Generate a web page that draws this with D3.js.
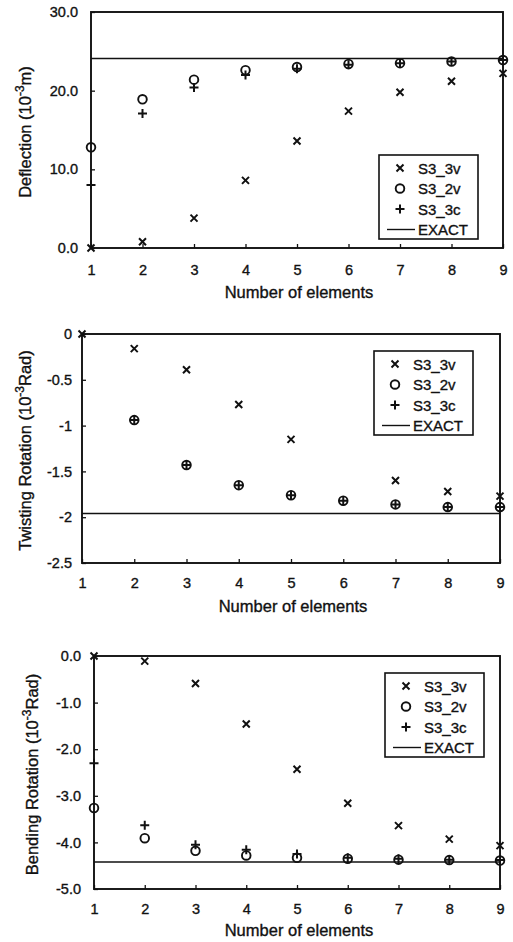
<!DOCTYPE html>
<html>
<head>
  <meta charset="utf-8">
  <title>Deflection and rotation vs number of elements</title>
  <script src="https://d3js.org/d3.v7.min.js"></script>
  <style>
    body { margin: 0; background: #fff; }
    svg { display: block; }
    text { font-family: "Liberation Sans", Arial, sans-serif; fill: #111; stroke: #111; stroke-width: 0.35px; }
  </style>
</head>
<body>
  <div id="chart"></div>

  <script>
    // values
    const elements = [1, 2, 3, 4, 5, 6, 7, 8, 9];
    const legendLabels = ["S3_3v", "S3_2v", "S3_3c", "EXACT"];

    const deflection3v = [0.0, 0.8, 3.8, 8.6, 13.6, 17.4, 19.8, 21.2, 22.2];
    const deflection2v = [12.8, 18.9, 21.4, 22.6, 23.0, 23.4, 23.5, 23.7, 23.9];
    const deflection3c = [8.0, 17.1, 20.4, 22.0, 22.8, 23.3, 23.5, 23.7, 23.9];
    const deflectionExact = 24.1;
    const deflectionTicks = [0, 10, 20, 30];
    const deflectionTickLabels = ["0.0", "10.0", "20.0", "30.0"];

    const twist3v = [0, -0.16, -0.39, -0.77, -1.15, null, -1.60, -1.72, -1.77];
    const twist2v = [null, -0.94, -1.43, -1.65, -1.76, -1.82, -1.86, -1.89, -1.89];
    const twist3c = [null, -0.94, -1.43, -1.65, -1.76, -1.82, -1.86, -1.89, -1.89];
    const twistExact = -1.96;
    const twistTicks = [0, -0.5, -1, -1.5, -2, -2.5];
    const twistTickLabels = ["0", "-0.5", "-1", "-1.5", "-2", "-2.5"];

    const bend3v = [0.0, -0.11, -0.59, -1.46, -2.43, -3.16, -3.64, -3.93, -4.07];
    const bend2v = [-3.26, -3.91, -4.18, -4.28, -4.33, -4.35, -4.37, -4.38, -4.39];
    const bend3c = [-2.30, -3.63, -4.05, -4.16, -4.25, -4.33, -4.35, -4.37, -4.38];
    const bendExact = -4.42;
    const bendTicks = [0, -1, -2, -3, -4, -5];
    const bendTickLabels = ["0.0", "-1.0", "-2.0", "-3.0", "-4.0", "-5.0"];

    const svg = d3.select("#chart").append("svg")
      .attr("width", 513)
      .attr("height", 942);

    const ink = "#111";

    function markerPath(type, s) {
      if (type === "x") return `M${-s},${-s}L${s},${s}M${-s},${s}L${s},${-s}`;
      if (type === "+") return `M${-s},0H${s}M0,${-s}V${s}`;
      return null;
    }

    function drawMarker(g, type, x, y) {
      if (type === "o") {
        g.append("circle")
          .attr("cx", x).attr("cy", y).attr("r", 4.3)
          .attr("fill", "none").attr("stroke", ink).attr("stroke-width", 1.9);
      } else {
        g.append("path")
          .attr("transform", `translate(${x},${y})`)
          .attr("d", markerPath(type, type === "x" ? 3.5 : 4.5))
          .attr("fill", "none").attr("stroke", ink).attr("stroke-width", 2);
      }
    }

    function drawPanel(p) {
      const g = svg.append("g");

      const x = d3.scaleLinear().domain([1, 9]).range([p.left, p.right]);
      const y = d3.scaleLinear().domain(d3.extent(p.ticks)).range([p.bottom, p.top]);

      // exact solution line
      g.append("line")
        .attr("x1", p.left).attr("x2", p.right)
        .attr("y1", y(p.exact)).attr("y2", y(p.exact))
        .attr("stroke", ink).attr("stroke-width", 1.5);

      // y axis, inward ticks
      const yAxis = g.append("g")
        .attr("transform", `translate(${p.left},0)`)
        .call(d3.axisLeft(y).tickValues(p.ticks).tickSizeInner(-4).tickSizeOuter(0)
          .tickPadding(p.yPad).tickFormat((d, i) => p.tickLabels[i]));
      yAxis.select(".domain").remove();
      yAxis.selectAll("line").attr("stroke", ink).attr("stroke-width", 1.3);
      yAxis.selectAll("text").attr("font-size", 14.5).attr("fill", ink)
        .attr("font-family", "Liberation Sans, Arial, sans-serif");

      // x axis, inward ticks
      const xAxis = g.append("g")
        .attr("transform", `translate(0,${p.bottom})`)
        .call(d3.axisBottom(x).tickValues(elements).tickSizeInner(-4).tickSizeOuter(0)
          .tickPadding(p.xPad).tickFormat(d3.format("d")));
      xAxis.select(".domain").remove();
      xAxis.selectAll("line").attr("stroke", ink).attr("stroke-width", 1.3);
      xAxis.selectAll("text").attr("font-size", 14.5).attr("fill", ink)
        .attr("font-family", "Liberation Sans, Arial, sans-serif");

      // frame
      g.append("rect")
        .attr("x", p.left).attr("y", p.top)
        .attr("width", p.right - p.left).attr("height", p.bottom - p.top)
        .attr("fill", "none").attr("stroke", ink).attr("stroke-width", 1.9);

      // points
      const series = [["x", p.s3v], ["o", p.s2v], ["+", p.s3c]];
      series.forEach(([type, vals]) => {
        vals.forEach((v, i) => {
          if (v === null) return;
          drawMarker(g, type, x(elements[i]), y(v));
        });
      });

      // axis titles
      g.append("text")
        .attr("x", (p.left + p.right) / 2 + 2)
        .attr("y", p.bottom + p.xTitleDy)
        .attr("text-anchor", "middle")
        .attr("font-size", 16.5)
        .text("Number of elements");

      const yt = g.append("text")
        .attr("transform", `translate(${p.titleX},${(p.top + p.bottom) / 2 + 2}) rotate(-90)`)
        .attr("text-anchor", "middle")
        .attr("font-size", 16.5);
      yt.append("tspan").text(p.yTitle + " (10");
      yt.append("tspan").attr("dy", -7).attr("font-size", 12).text("-3");
      yt.append("tspan").attr("dy", 7).text(p.yUnit + ")");

      // legend
      const lg = g.append("g").attr("transform", `translate(${p.legend[0]},${p.legend[1]})`);
      lg.append("rect")
        .attr("width", 99).attr("height", 84)
        .attr("fill", "#fff").attr("stroke", ink).attr("stroke-width", 1.6);
      legendLabels.forEach((lab, i) => {
        const cy = 13 + i * 20.5;
        if (i < 3) drawMarker(lg, ["x", "o", "+"][i], 21, cy);
        else lg.append("line").attr("x1", 8).attr("x2", 36).attr("y1", cy).attr("y2", cy)
          .attr("stroke", ink).attr("stroke-width", 1.4);
        lg.append("text").attr("x", 39).attr("y", cy + 5.5)
          .attr("font-size", 15).text(lab);
      });
    }

    drawPanel({
      left: 91, right: 503, top: 12, bottom: 248, yPad: 13, xPad: 17, xTitleDy: 50,
      ticks: deflectionTicks, tickLabels: deflectionTickLabels,
      s3v: deflection3v, s2v: deflection2v, s3c: deflection3c, exact: deflectionExact,
      yTitle: "Deflection", yUnit: "m", titleX: 31, legend: [379, 155]
    });

    drawPanel({
      left: 82, right: 500, top: 334, bottom: 563, yPad: 10, xPad: 15, xTitleDy: 49,
      ticks: twistTicks, tickLabels: twistTickLabels,
      s3v: twist3v, s2v: twist2v, s3c: twist3c, exact: twistExact,
      yTitle: "Twisting Rotation", yUnit: "Rad", titleX: 31, legend: [374, 351]
    });

    drawPanel({
      left: 94, right: 500, top: 656, bottom: 889, yPad: 13, xPad: 15, xTitleDy: 47,
      ticks: bendTicks, tickLabels: bendTickLabels,
      s3v: bend3v, s2v: bend2v, s3c: bend3c, exact: bendExact,
      yTitle: "Bending Rotation", yUnit: "Rad", titleX: 38, legend: [385, 673]
    });
  </script>
</body>
</html>
